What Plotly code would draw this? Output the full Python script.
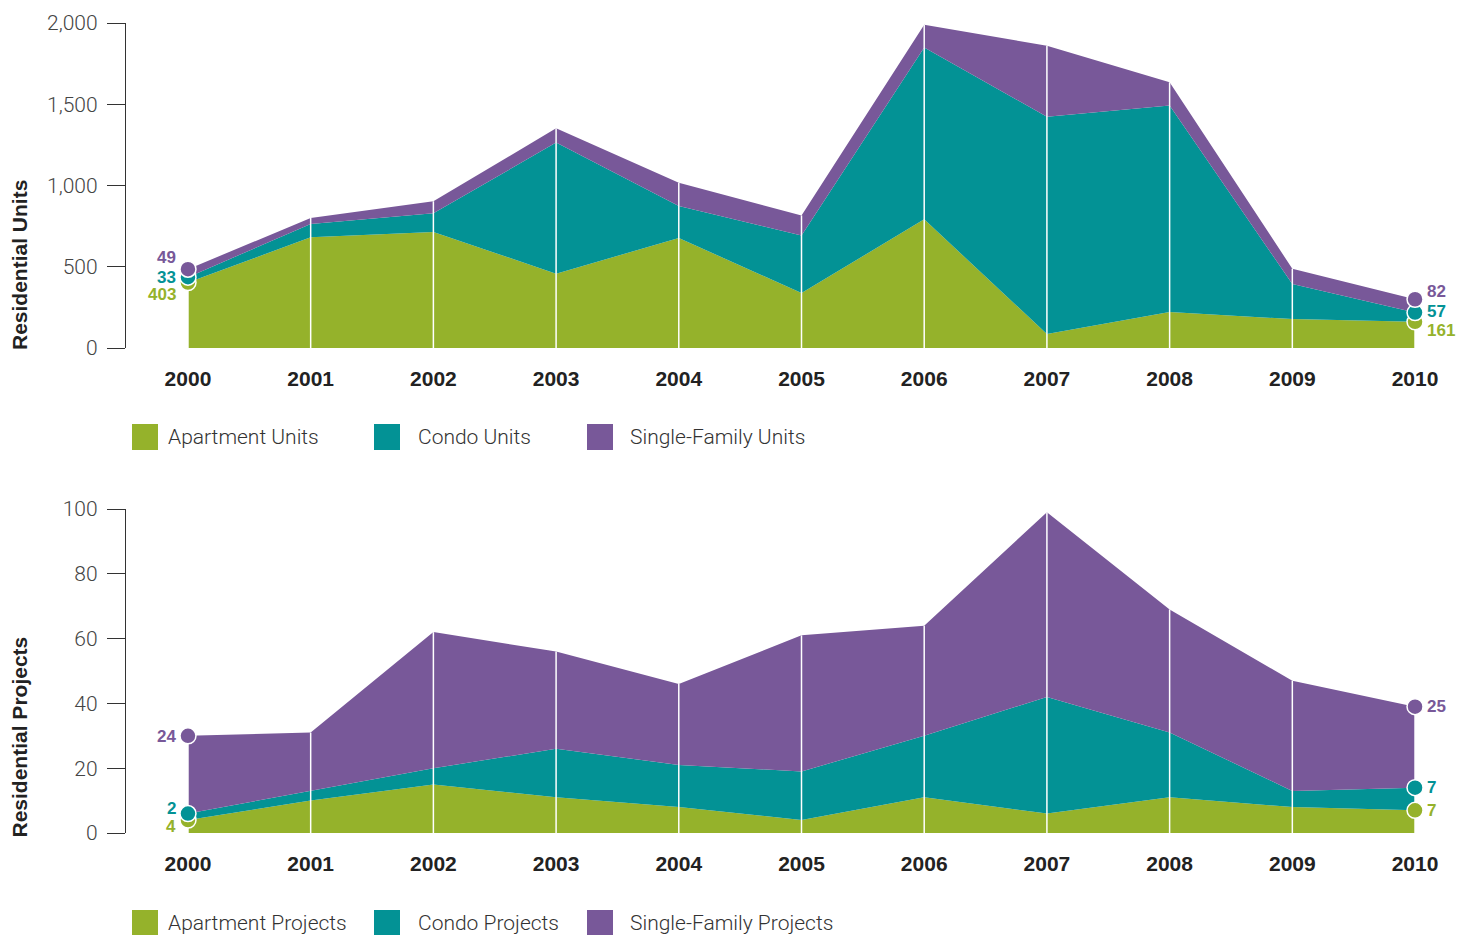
import plotly.graph_objects as go

# ---------------- data ----------------
years = [2000, 2001, 2002, 2003, 2004, 2005, 2006, 2007, 2008, 2009, 2010]

apartment_units = [403, 681, 714, 457, 677, 338, 792, 86, 221, 178, 161]
condo_units = [33, 82, 115, 807, 197, 355, 1058, 1337, 1271, 216, 57]
single_family_units = [49, 37, 74, 88, 143, 123, 140, 437, 144, 94, 82]

apartment_projects = [4, 10, 15, 11, 8, 4, 11, 6, 11, 8, 7]
condo_projects = [2, 3, 5, 15, 13, 15, 19, 36, 20, 5, 7]
single_family_projects = [24, 18, 42, 30, 25, 42, 34, 57, 38, 34, 25]

units_ticks = [0, 500, 1000, 1500, 2000]
projects_ticks = [0, 20, 40, 60, 80, 100]

units_names = ["Apartment Units", "Condo Units", "Single-Family Units"]
projects_names = ["Apartment Projects", "Condo Projects", "Single-Family Projects"]

# ---------------- style ----------------
W, H = 1460, 935
GREEN = "#95B22B"
TEAL = "#039295"
PURPLE = "#785899"
COLORS = [GREEN, TEAL, PURPLE]
LIGHT_FONT = "Roboto"
BOLD_FONT = "Liberation Sans, Arial, sans-serif"


def px_x(p):
    return p / W


def px_y(p):
    return 1 - p / H


fig = go.Figure()


def add_panel(series, names, xa, ya, label_shifts):
    xref = "x" if xa == "xaxis" else "x2"
    yref = "y" if ya == "yaxis" else "y2"
    for vals, name, col in zip(series, names, COLORS):
        fig.add_trace(go.Scatter(
            x=years, y=vals, name=name, mode="lines",
            stackgroup=f"sg_{yref}", fill="tonexty",
            line=dict(width=0, color=col), fillcolor=col,
            xaxis=xref, yaxis=yref, showlegend=False, hoverinfo="skip",
        ))
    totals = [sum(v) for v in zip(*series)]
    vx, vy = [], []
    for yr, t in zip(years, totals):
        vx += [yr, yr, None]
        vy += [0, t, None]
    fig.add_trace(go.Scatter(
        x=vx, y=vy, mode="lines", line=dict(color="white", width=1.5),
        xaxis=xref, yaxis=yref, showlegend=False, hoverinfo="skip",
    ))
    # end markers and labels
    cum = [0] * len(years)
    for k, (vals, col) in enumerate(zip(series, COLORS)):
        cum = [c + v for c, v in zip(cum, vals)]
        ends = [0, len(years) - 1]
        fig.add_trace(go.Scatter(
            x=[years[i] for i in ends], y=[cum[i] for i in ends], mode="markers",
            marker=dict(size=16, color=col, line=dict(color="white", width=1.5)),
            xaxis=xref, yaxis=yref, showlegend=False, hoverinfo="skip",
            cliponaxis=False,
        ))
        for j, i in enumerate(ends):
            fig.add_annotation(
                x=years[i], y=cum[i], xref=xref, yref=yref,
                text=f"{vals[i]:,}", showarrow=False,
                xanchor="right" if i == 0 else "left",
                xshift=-10 if i == 0 else 10,
                yshift=label_shifts[j][k],
                font=dict(family=BOLD_FONT, size=17, color=col, weight="bold"),
            )


add_panel([apartment_units, condo_units, single_family_units], units_names,
          "xaxis", "yaxis", [[-12, 0, 12], [-9, 1, 8]])
add_panel([apartment_projects, condo_projects, single_family_projects], projects_names,
          "xaxis2", "yaxis2", [[-6, 5, -1], [0, 0, 0]])

xdom = [px_x(126), px_x(1450)]
xrange = [1999.495, 2010.285]
xcommon = dict(
    domain=xdom, range=xrange, showgrid=False, zeroline=False, showline=False,
    tickvals=years, ticktext=[str(y) for y in years], ticks="", ticklen=0,
    tickfont=dict(family=BOLD_FONT, size=21, color="#222", weight="bold"),
    ticklabelstandoff=16, fixedrange=True, automargin=False,
)
ycommon = dict(
    showgrid=False, zeroline=False, showline=True, linecolor="#333", linewidth=1.3,
    ticks="outside", ticklen=18, tickwidth=1.3, tickcolor="#333",
    tickfont=dict(family=LIGHT_FONT, size=21, color="#444", weight=300),
    tickformat=",", ticklabelstandoff=5, fixedrange=True, automargin=False,
)

fig.update_layout(
    width=W, height=H, autosize=False,
    margin=dict(l=0, r=0, t=0, b=0, pad=0),
    paper_bgcolor="white", plot_bgcolor="white",
    showlegend=False,
    xaxis=dict(anchor="y", **xcommon),
    yaxis=dict(domain=[px_y(348), px_y(23)], range=[0, 2000], tickvals=units_ticks,
               anchor="x", **ycommon),
    xaxis2=dict(anchor="y2", **xcommon),
    yaxis2=dict(domain=[px_y(833), px_y(509)], range=[0, 100], tickvals=projects_ticks,
                anchor="x2", **ycommon),
)

# axis titles
for txt, ybase in [("Residential Units", 352), ("Residential Projects", 840)]:
    fig.add_annotation(
        x=px_x(19), y=px_y(ybase), xref="paper", yref="paper",
        text=txt, textangle=-90, showarrow=False,
        xanchor="center", yanchor="bottom",
        font=dict(family=BOLD_FONT, size=21, color="#222", weight="bold"),
    )

# legends (drawn)
legend_swatch_x = [132, 374, 587]
legend_text_x = [166, 416, 628]
for names, cy in [(units_names, 437), (projects_names, 923)]:
    for name, col, lx, tx in zip(names, COLORS, legend_swatch_x, legend_text_x):
        fig.add_shape(type="rect", xref="paper", yref="paper",
                      x0=px_x(lx), x1=px_x(lx + 26), y0=px_y(cy - 13), y1=px_y(cy + 13),
                      fillcolor=col, line=dict(width=0))
        fig.add_annotation(
            x=px_x(tx), y=px_y(cy), xref="paper", yref="paper",
            text=name, showarrow=False, xanchor="left", yanchor="middle",
            font=dict(family=LIGHT_FONT, size=21, color="#333", weight=300),
        )

fig.write_html("out.html")
